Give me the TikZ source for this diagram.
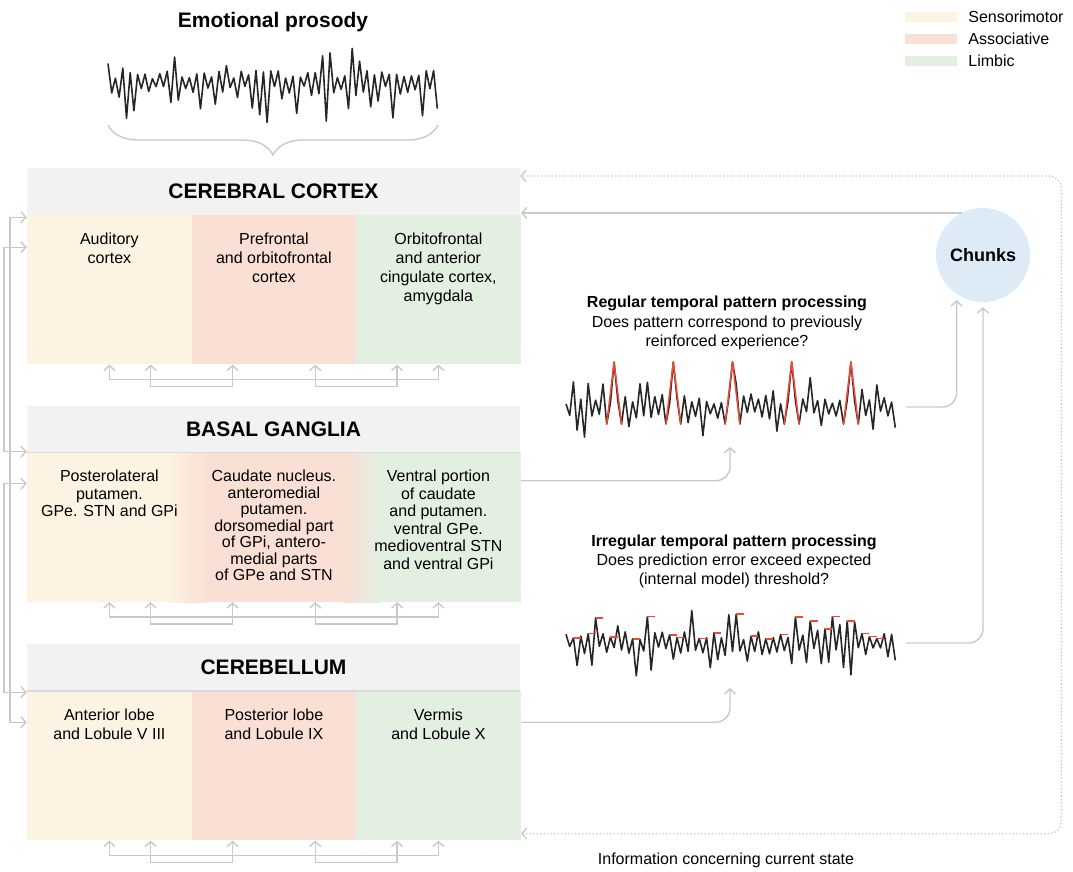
\documentclass[tikz,border=0pt]{standalone}
\usepackage{fontspec}
\setmainfont{Liberation Sans}
\usetikzlibrary{positioning,arrows.meta,decorations.pathreplacing,calc}

\definecolor{senfill}{HTML}{FDF3E2}
\definecolor{ascfill}{HTML}{FADFD5}
\definecolor{limfill}{HTML}{E2EFE1}
\definecolor{headfill}{HTML}{F2F2F2}
\definecolor{headline}{HTML}{DADADA}
\definecolor{linegray}{HTML}{C9C9C9}
\definecolor{chunkfill}{HTML}{DDEBF6}
\definecolor{peakred}{HTML}{EE4A36}

\begin{document}
\begin{tikzpicture}[x=1pt, y=-1pt, >={Straight Barb[length=5pt,width=11pt]},
  every node/.style={inner sep=0pt},
  head/.style={fill=headfill, minimum width=493pt, minimum height=47pt, font=\fontsize{21}{25}\selectfont\bfseries},
  col/.style={minimum width=164.8pt, minimum height=149pt},
  lbl/.style={align=center, font=\fontsize{16}{19}\selectfont},
  conn/.style={draw=linegray, line width=1.4pt},
  dotconn/.style={draw=linegray, line width=1.3pt, dash pattern=on 1.3pt off 2.2pt},
  wave/.style={draw=black!85, line width=1.6pt, line join=round},
  peak/.style={draw=peakred, line width=1.5pt, line join=round},
  swatch/.style={minimum width=52pt, minimum height=10pt}]
  \useasboundingbox (0,0) rectangle (1073,871);

  % legend
  \node[swatch, fill=senfill] (lgsen) at (931,17) {};
  \node[swatch, fill=ascfill] (lgasc) at (931,39) {};
  \node[swatch, fill=limfill] (lglim) at (931,61) {};
  \node[lbl, right=11pt of lgsen] (lgsent) {Sensorimotor};
  \node[lbl, right=11pt of lgasc] (lgasct) {Associative};
  \node[lbl, right=11pt of lglim] (lglimt) {Limbic};

  % emotional prosody
  \node[font=\fontsize{21}{25}\selectfont\bfseries, anchor=base] (protitle) at (273,27.5) {Emotional prosody};
  \pgfmathsetseed{11}
  \foreach \i in {0,...,89} {
    \pgfmathsetmacro\dy{(2*mod(\i,2)-1)*(3+10*rnd+28*(rnd>0.6)*rnd)}
    \coordinate (e\i) at (108+3.7*\i, 83+\dy);
  }
  \draw[wave] (e0) \foreach \i in {1,...,89} { -- (e\i) };
  \draw[conn, decorate, decoration={brace, mirror, amplitude=30pt}] (108,125) -- (438,125);

  % cerebral cortex
  \node[head] (cxhead) at (273.5,191.5) {CEREBRAL CORTEX};
  \node[col, fill=senfill, anchor=north west] (cxsen) at (cxhead.south west) {};
  \node[col, fill=ascfill, right=-0.7pt of cxsen] (cxasc) {};
  \node[col, fill=limfill, right=-0.7pt of cxasc] (cxlim) {};
  \node[lbl, below=17pt of cxsen.north] (cxsent) {Auditory\\cortex};
  \node[lbl, below=17pt of cxasc.north] (cxasct) {Prefrontal\\and orbitofrontal\\cortex};
  \node[lbl, below=17pt of cxlim.north] (cxlimt) {Orbitofrontal\\and anterior\\cingulate cortex,\\amygdala};

  % basal ganglia
  \node[head] (bghead) at (273.5,429) {BASAL GANGLIA};
  \node[col, fill=senfill, anchor=north west] (bgsen) at (bghead.south west) {};
  \node[col, fill=ascfill, right=-0.7pt of bgsen] (bgasc) {};
  \node[col, fill=limfill, right=-0.7pt of bgasc] (bglim) {};
  \shade[left color=senfill, right color=ascfill] ([xshift=-24pt]bgsen.north east) rectangle ([xshift=16pt]bgasc.south west);
  \shade[left color=ascfill, right color=limfill] ([xshift=-12pt]bgasc.north east) rectangle ([xshift=25pt]bglim.south west);
  \draw[headline, line width=1.5pt] (bghead.south west) -- (bghead.south east);
  \node[lbl, below=17pt of bgsen.north, font=\fontsize{16}{17.5}\selectfont] (bgsent) {Posterolateral\\putamen.\\GPe. STN and GPi};
  \node[lbl, below=17pt of bgasc.north, font=\fontsize{16}{16.5}\selectfont] (bgasct) {Caudate nucleus.\\anteromedial\\putamen.\\dorsomedial part\\of GPi, antero-\\medial parts\\of GPe and STN};
  \node[lbl, below=17pt of bglim.north, font=\fontsize{16}{17.5}\selectfont] (bglimt) {Ventral portion\\of caudate\\and putamen.\\ventral GPe.\\medioventral STN\\and ventral GPi};

  % cerebellum
  \node[head] (cbhead) at (273.5,667.5) {CEREBELLUM};
  \node[col, fill=senfill, anchor=north west] (cbsen) at (cbhead.south west) {};
  \node[col, fill=ascfill, right=-0.7pt of cbsen] (cbasc) {};
  \node[col, fill=limfill, right=-0.7pt of cbasc] (cblim) {};
  \draw[headline, line width=1.5pt] (cbhead.south west) -- (cbhead.south east);
  \node[lbl, below=17pt of cbsen.north] (cbsent) {Anterior lobe\\and Lobule V III};
  \node[lbl, below=17pt of cbasc.north] (cbasct) {Posterior lobe\\and Lobule IX};
  \node[lbl, below=17pt of cblim.north] (cblimt) {Vermis\\and Lobule X};

  % loops under each structure
  \foreach \rg in {cx,bg,cb} {
    \draw[conn, <->] (\rg sen.south) -- ++(0,15) -| (\rg lim.south);
    \draw[conn, <->] ($(\rg sen.south)!0.5!(\rg sen.south east)$) -- ++(0,22) -| ($(\rg asc.south west)!0.5!(\rg asc.south)$);
    \draw[conn, <->] ($(\rg asc.south)!0.5!(\rg asc.south east)$) -- ++(0,22) -| ($(\rg lim.south west)!0.5!(\rg lim.south)$);
  }

  % left side links
  \draw[conn, <->] ([yshift=-2pt]cxsen.north west) -- ++(-17,0) |- ([yshift=-31pt]cbsen.north west);
  \draw[conn, <->] ([yshift=-32pt]cxsen.north west) -- ++(-23,0) |- ([yshift=1pt]bgsen.north west);
  \draw[conn, <->] ([yshift=-31pt]bgsen.north west) -- ++(-23,0) |- ([yshift=-1pt]cbsen.north west);

  % chunks
  \node[circle, fill=chunkfill, minimum size=94pt, font=\fontsize{18}{22}\selectfont\bfseries] (chunks) at (983,255) {Chunks};
  \draw[conn, ->] (chunks.117) -- (chunks.117 -| cxlim.east);
  \draw[dotconn, <->, rounded corners=12pt] ([yshift=7pt]cblim.south east) -| ([xshift=541pt, yshift=15.5pt]cxhead.east) -- ([yshift=15.5pt]cxhead.east);

  % regular pattern
  \node[lbl, anchor=north, font=\fontsize{16}{19.5}\selectfont] (regtxt) at (727,296) {\textbf{Regular temporal pattern processing}\\Does pattern correspond to previously\\reinforced experience?};
  \pgfmathsetseed{23}
  \foreach \i in {0,...,89} {
    \pgfmathsetmacro\dy{(2*mod(\i,2)-1)*(3+9*rnd+24*(rnd>0.62)*rnd)}
    \coordinate (r\i) at (566+3.7*\i, 407+\dy);
  }
  \foreach \k in {13,29,45,61,77} {
    \pgfmathtruncatemacro\km{\k-2}
    \pgfmathtruncatemacro\kp{\k+2}
    \coordinate (r\k) at (566+3.7*\k, 362);
    \coordinate (r\km) at (566+3.7*\km, 424);
    \coordinate (r\kp) at (566+3.7*\kp, 424);
  }
  \draw[wave] (r0) \foreach \i in {1,...,89} { -- (r\i) };
  \foreach \k in {13,29,45,61,77} {
    \pgfmathtruncatemacro\km{\k-2}
    \pgfmathtruncatemacro\kp{\k+2}
    \draw[peak] (r\km) -- (r\k) -- (r\kp);
  }
  \coordinate (w1e) at (906,407);
  \coordinate (w1s) at (730,447);

  % irregular pattern
  \node[lbl, anchor=north, font=\fontsize{16}{19}\selectfont] (irrtxt) at (734,535) {\textbf{Irregular temporal pattern processing}\\Does prediction error exceed expected\\(internal model) threshold?};
  \pgfmathsetseed{5}
  \foreach \i in {0,...,89} {
    \pgfmathsetmacro\dy{(2*mod(\i,2)-1)*(3+9*rnd+24*(rnd>0.62)*rnd)}
    \coordinate (s\i) at (566+3.7*\i, 643+\dy);
  }
  \draw[wave] (s0) \foreach \i in {1,...,89} { -- (s\i) };
  \foreach \k in {2,6,8,12,18,22,28,30,36,40,46,50,54,58,62,66,70,72,76,80,82,84} {
    \pgfmathtruncatemacro\kn{\k+2}
    \draw[peak] (s\k) -- (s\k -| s\kn);
  }
  \coordinate (w2e) at (906,643);
  \coordinate (w2s) at (730,688);

  % links to the patterns and to chunks
  \draw[conn, ->, rounded corners=14pt] ([yshift=-28pt]bglim.north east) -| (w1s);
  \draw[conn, ->, rounded corners=14pt] ([yshift=-31pt]cblim.north east) -| (w2s);
  \draw[conn, ->, rounded corners=14pt, shorten >=6pt] (w1e) -| (chunks.-124);
  \draw[conn, ->, rounded corners=14pt, shorten >=5pt] (w2e) -| (chunks.south);

  \node[lbl, anchor=base] (infotxt) at (726,864) {Information concerning current state};
\end{tikzpicture}
\end{document}
